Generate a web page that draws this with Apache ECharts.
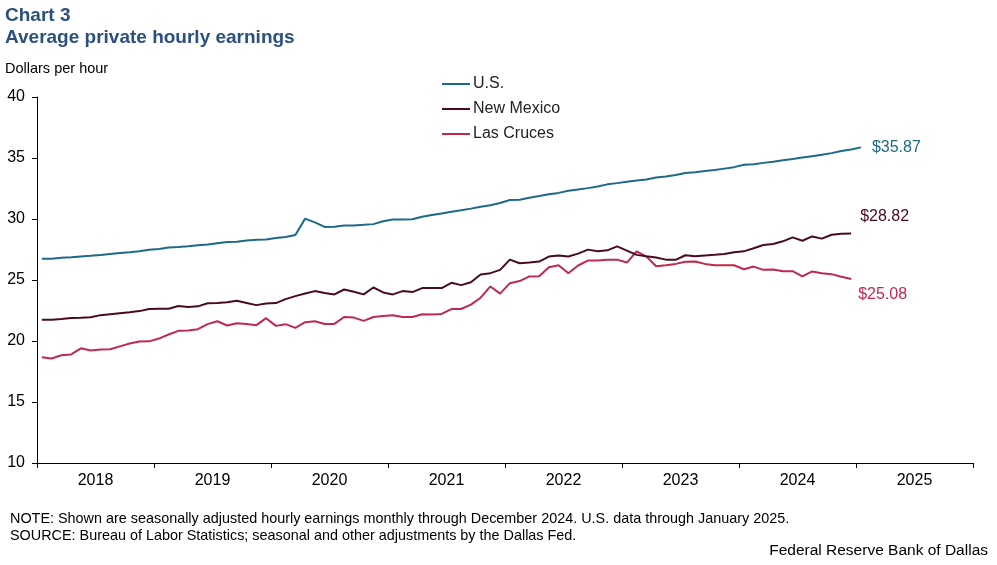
<!DOCTYPE html>
<html>
<head>
<meta charset="utf-8">
<script src="https://cdn.jsdelivr.net/npm/echarts@6/dist/echarts.min.js"></script>
<style>
html,body{margin:0;padding:0;background:#fff;}
#c{width:997px;height:565px;}
</style>
</head>
<body>
<div id="c"></div>
<script>
// ---- data ----
const years = ['2018','2019','2020','2021','2022','2023','2024','2025'];
const yTicks = [10, 15, 20, 25, 30, 35, 40];
// monthly, Jan 2018 – Jan 2025
const usValues = [
  26.74,26.75,26.83,26.87,26.93,26.98,27.05,27.14,27.22,27.28,27.36,27.48,
  27.55,27.67,27.71,27.77,27.85,27.91,28.02,28.12,28.13,28.23,28.29,28.32,
  28.44,28.52,28.68,30.03,29.72,29.35,29.37,29.47,29.47,29.52,29.58,29.81,
  29.96,29.96,29.98,30.18,30.33,30.45,30.60,30.71,30.85,31.00,31.13,31.31,
  31.56,31.58,31.75,31.88,32.02,32.14,32.31,32.42,32.53,32.66,32.84,32.94,
  33.05,33.16,33.24,33.40,33.49,33.60,33.77,33.84,33.93,34.01,34.13,34.25,
  34.44,34.49,34.60,34.70,34.82,34.92,35.04,35.15,35.26,35.40,35.58,35.69,
  35.87
];
// monthly, Jan 2018 – Dec 2024
const nmValues = [
  21.75,21.75,21.80,21.88,21.90,21.95,22.12,22.20,22.28,22.36,22.45,22.62,
  22.64,22.64,22.87,22.78,22.84,23.10,23.11,23.18,23.30,23.12,22.94,23.08,
  23.11,23.43,23.68,23.90,24.09,23.93,23.82,24.22,24.04,23.82,24.39,23.98,
  23.82,24.09,24.01,24.34,24.34,24.34,24.77,24.58,24.82,25.45,25.56,25.83,
  26.67,26.37,26.43,26.51,26.92,27.00,26.92,27.16,27.49,27.35,27.43,27.76,
  27.41,27.06,26.94,26.84,26.67,26.65,27.03,26.94,27.00,27.06,27.14,27.27,
  27.35,27.60,27.87,27.95,28.17,28.49,28.22,28.57,28.39,28.71,28.79,28.82
];
const lcValues = [
  18.66,18.57,18.83,18.90,19.40,19.22,19.30,19.32,19.56,19.80,19.96,19.97,
  20.20,20.53,20.83,20.86,20.97,21.38,21.62,21.27,21.46,21.40,21.30,21.87,
  21.24,21.38,21.08,21.54,21.62,21.40,21.40,21.97,21.92,21.65,21.97,22.05,
  22.11,21.97,21.97,22.19,22.17,22.22,22.62,22.62,22.98,23.55,24.47,23.88,
  24.74,24.91,25.29,25.31,26.05,26.21,25.56,26.19,26.59,26.59,26.65,26.67,
  26.43,27.35,26.92,26.13,26.21,26.32,26.49,26.51,26.32,26.21,26.21,26.21,
  25.88,26.10,25.83,25.86,25.72,25.72,25.29,25.70,25.56,25.48,25.26,25.08
];
const seriesNames = ['U.S.', 'New Mexico', 'Las Cruces'];
const colors = ['#1c6a86', '#4a0a1f', '#c0294e'];

// month categories built from year list
const months = [];
years.forEach(y => { for (let m = 1; m <= 12; m++) months.push(y + '-' + String(m).padStart(2, '0')); });

const FONT = 'Liberation Sans, Arial, sans-serif';
const chart = echarts.init(document.getElementById('c'), null, {renderer: 'canvas'});

const grid = {left: 37, top: 97, width: 936, height: 366};

function lineSeries(idx, data, labelOffset) {
  return {
    name: seriesNames[idx],
    type: 'line',
    xAxisIndex: 0, yAxisIndex: 0,
    data: data,
    showSymbol: false,
    symbol: 'none',
    lineStyle: {color: colors[idx], width: 2},
    itemStyle: {color: colors[idx]},
    emphasis: {disabled: true},
    endLabel: {
      show: true,
      formatter: p => '$' + p.value.toFixed(2),
      color: colors[idx],
      fontFamily: FONT,
      fontSize: 16,
      distance: 0,
      offset: labelOffset
    },
    z: 3 - idx
  };
}

chart.setOption({
  animation: false,
  textStyle: {fontFamily: FONT},
  grid: [Object.assign({}, grid), Object.assign({}, grid)],
  xAxis: [
    {
      type: 'category', gridIndex: 0, data: months, boundaryGap: true,
      axisLine: {lineStyle: {color: '#000', width: 1}},
      axisTick: {show: true, interval: 11, length: 5, lineStyle: {color: '#000'}},
      axisLabel: {show: false},
      splitLine: {show: false}
    },
    {
      type: 'category', gridIndex: 1, data: years, boundaryGap: true,
      axisLine: {show: false}, axisTick: {show: false},
      axisLabel: {show: true, color: '#000', fontSize: 16, fontFamily: FONT, margin: 10},
      splitLine: {show: false}
    }
  ],
  yAxis: [
    {
      type: 'value', gridIndex: 0, min: yTicks[0], max: yTicks[yTicks.length - 1], interval: 5,
      axisLine: {show: true, lineStyle: {color: '#000', width: 1}},
      axisTick: {show: true, length: 5, lineStyle: {color: '#000'}},
      axisLabel: {color: '#000', fontSize: 16, fontFamily: FONT, margin: 12},
      splitLine: {show: false}
    },
    {
      type: 'value', gridIndex: 1, min: 0, max: 1, show: false
    }
  ],
  legend: {
    orient: 'vertical', left: 437, top: 70,
    itemWidth: 28, itemHeight: 2, itemGap: 7,
    icon: 'rect',
    data: seriesNames,
    textStyle: {color: '#222', fontSize: 16, fontFamily: FONT, lineHeight: 18, padding: [0,0,0,-2]},
    selectedMode: false
  },
  series: [
    lineSeries(0, usValues, [11, 0]),
    lineSeries(1, nmValues, [9, -17]),
    lineSeries(2, lcValues, [7, 16])
  ],
  graphic: [
    {type: 'text', left: 5, top: 6, style: {text: 'Chart 3', fill: '#2b4f7e', font: 'bold 19px ' + FONT}},
    {type: 'text', left: 5, top: 28, style: {text: 'Average private hourly earnings', fill: '#2b4f7e', font: 'bold 19px ' + FONT}},
    {type: 'text', left: 5, top: 61, style: {text: 'Dollars per hour', fill: '#000', font: '14.5px ' + FONT}},
    {type: 'text', left: 10, top: 512, style: {text: 'NOTE: Shown are seasonally adjusted hourly earnings monthly through December 2024. U.S. data through January 2025.', fill: '#000', font: '14.4px ' + FONT}},
    {type: 'text', left: 10, top: 529, style: {text: 'SOURCE: Bureau of Labor Statistics; seasonal and other adjustments by the Dallas Fed.', fill: '#000', font: '14.4px ' + FONT}},
    {type: 'text', right: 9, top: 543, style: {text: 'Federal Reserve Bank of Dallas', fill: '#000', font: '15.5px ' + FONT}}
  ]
});
</script>
</body>
</html>
